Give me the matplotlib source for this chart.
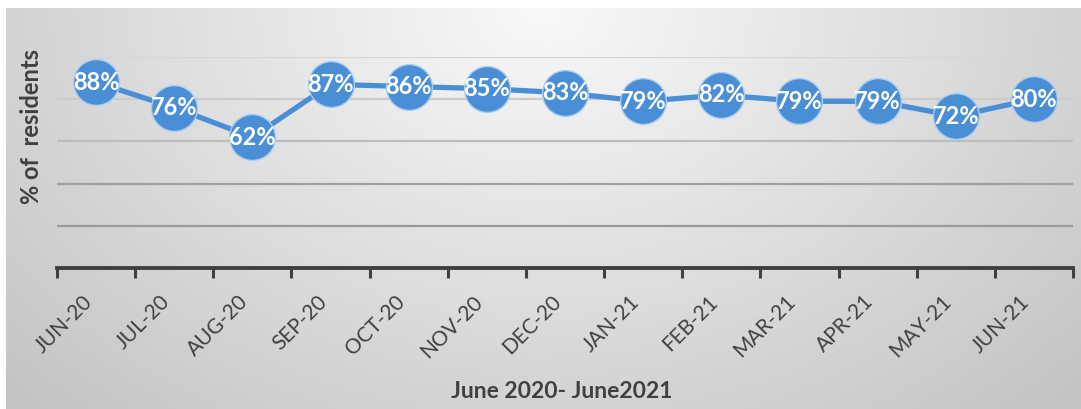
"""Monthly share of residents chart, June 2020 - June 2021."""
import numpy as np
import matplotlib
matplotlib.use("Agg")
import matplotlib.pyplot as plt
from matplotlib.transforms import ScaledTranslation

months = ["JUN-20", "JUL-20", "AUG-20", "SEP-20", "OCT-20", "NOV-20", "DEC-20",
          "JAN-21", "FEB-21", "MAR-21", "APR-21", "MAY-21", "JUN-21"]
pct_residents = [88, 76, 62, 87, 86, 85, 83, 79, 82, 79, 79, 72, 80]
grid_levels = [20, 40, 60, 80, 100]

W, H = 1081, 409
line_color = "#4a8fd6"
text_color = "#404040"

plt.rcParams["font.family"] = ["Lato", "DejaVu Sans"]

fig = plt.figure(figsize=(W / 100, H / 100), dpi=100)
fig.set_facecolor("white")

# radial grey gradient behind the chart (lighter at top centre)
bg = fig.add_axes([6 / W, 0, 1 - 6 / W, 1 - 8 / H])
gx = np.linspace(-1, 1, 400)
gy = np.linspace(0, 1, 160)
xx, yy = np.meshgrid(gx, gy)
shade = 0.975 - 0.15 * np.sqrt(xx ** 2 + yy ** 2)
bg.imshow(shade, cmap="gray", vmin=0, vmax=1, aspect="auto",
          extent=[0, 1, 0, 1], origin="upper", interpolation="bicubic")
bg.set_axis_off()

ax = fig.add_axes([57 / W, 141 / H, (1073 - 57) / W, 211 / H])
ax.patch.set_alpha(0)

x = np.arange(len(months))
ax.plot(x, pct_residents, color=line_color, linewidth=3.8, marker="o",
        markersize=33, markerfacecolor=line_color, markeredgecolor="#a9cdf0",
        markeredgewidth=1.0, zorder=3, solid_capstyle="round")
for xi, v in zip(x, pct_residents):
    ax.text(xi, v, f"{v}%", color="white", fontsize=17, fontweight="bold",
            ha="center", va="center", zorder=4)

ax.set_xlim(-0.5, len(months) - 0.5)
ax.set_ylim(0, 100)

ax.set_yticks(grid_levels)
ax.tick_params(axis="y", left=False, labelleft=False)
ax.grid(visible=True, axis="y", linewidth=1.6)
grid_colors = ["#9a9a9a", "#a0a0a0", "#bcbcbc", "#cbcbcb", "#d6d6d6"]
for gl, c in zip(ax.get_ygridlines(), grid_colors):
    gl.set_color(c)

ax.set_xticks(np.arange(-0.5, len(months)), minor=False)
ax.set_xticklabels([])
ax.set_xticks(x, minor=True)
ax.set_xticklabels(months, minor=True, rotation=45, ha="right",
                   fontsize=15, color=text_color)
shift = ScaledTranslation(5 / 100, 0, fig.dpi_scale_trans)
for lbl in ax.get_xticklabels(minor=True):
    lbl.set_transform(lbl.get_transform() + shift)
ax.tick_params(axis="x", which="major", direction="out", length=7, width=2.2,
               color=text_color)
ax.tick_params(axis="x", which="minor", length=0, pad=17)

for side in ["top", "right", "left"]:
    ax.spines[side].set_visible(False)
ax.spines["bottom"].set_color(text_color)
ax.spines["bottom"].set_linewidth(2.8)

fig.text(32 / W, 1 - 126 / H, "% of  residents", rotation=90, ha="center",
         va="center", fontsize=17, fontweight="bold", color=text_color)
fig.text(562 / W, 1 - 392 / H, "June 2020- June2021", ha="center", va="center",
         fontsize=16.5, fontweight="bold", color=text_color)

fig.savefig("out.png", dpi=100)
plt.close(fig)
